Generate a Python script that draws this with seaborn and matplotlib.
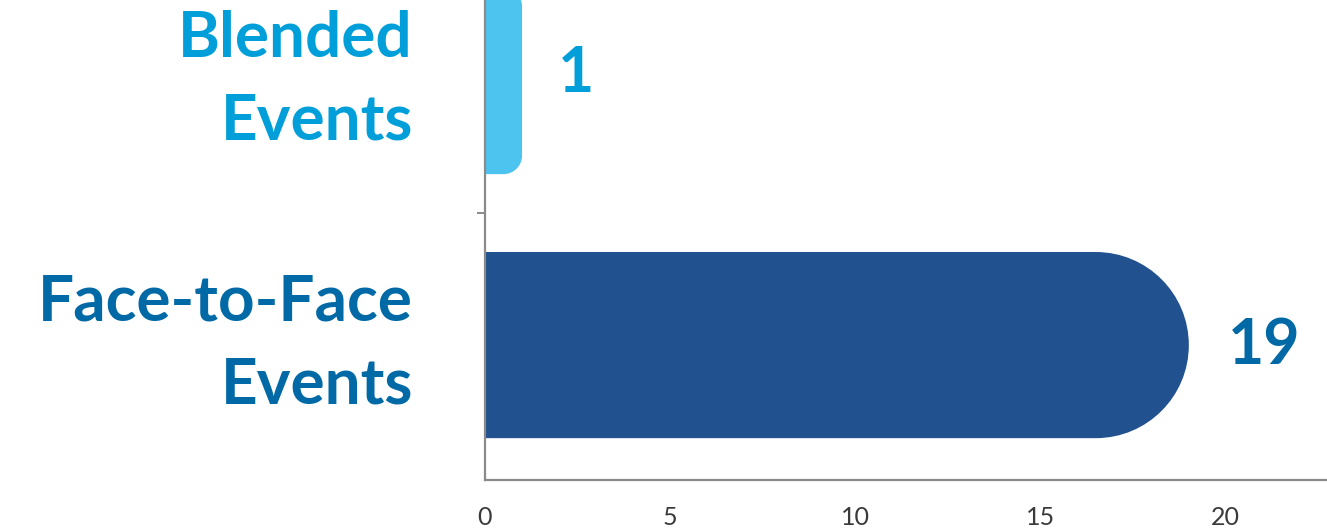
import numpy as np
import pandas as pd
import seaborn as sns
import matplotlib
matplotlib.use("Agg")
import matplotlib.pyplot as plt
from matplotlib.path import Path
from matplotlib.patches import PathPatch

# ---- data ----
categories = ["Blended\nEvents", "Face-to-Face\nEvents"]
values = [1, 19]
bar_colors = ["#4DC3F0", "#21518F"]
label_colors = ["#009FDA", "#0069A6"]
xticks = [0, 5, 10, 15, 20]

sns.set_theme(style="white")
plt.rcParams["font.family"] = ["Lato", "DejaVu Sans"]

W, H, DPI = 1327, 531, 100
fig = plt.figure(figsize=(W / DPI, H / DPI), dpi=DPI)
ax = fig.add_axes([485 / W, 51 / H, 1 - 485 / W, 480 / H])

df = pd.DataFrame({"cat": categories, "val": values})
sns.barplot(data=df, x="val", y="cat", hue="cat", palette=bar_colors,
            orient="h", width=0.705, legend=False, ax=ax, saturation=1)

ax.set_xlim(0, 22.73)
ax.set_ylim(1.511, -0.307)

# replace rectangles with right-rounded shapes
fig.canvas.draw()
px_x = ax.transData.transform((1, 0))[0] - ax.transData.transform((0, 0))[0]
px_y = abs(ax.transData.transform((0, 1))[1] - ax.transData.transform((0, 0))[1])
for p in list(ax.patches):
    x0, y0 = p.get_x(), p.get_y()
    w, h = p.get_width(), p.get_height()
    fc = p.get_facecolor()
    wpx, hpx = w * px_x, h * px_y
    r = 0.5 * min(wpx, hpx)
    rx, ry = r / px_x, r / px_y
    k = 0.5523
    x1 = x0 + w
    ya, yb = y0, y0 + h
    verts = [(x0, ya), (x1 - rx, ya),
             (x1 - rx + k * rx, ya), (x1, ya + ry - k * ry), (x1, ya + ry),
             (x1, yb - ry),
             (x1, yb - ry + k * ry), (x1 - rx + k * rx, yb), (x1 - rx, yb),
             (x0, yb), (x0, ya)]
    codes = [Path.MOVETO, Path.LINETO,
             Path.CURVE4, Path.CURVE4, Path.CURVE4,
             Path.LINETO,
             Path.CURVE4, Path.CURVE4, Path.CURVE4,
             Path.LINETO, Path.CLOSEPOLY]
    p.remove()
    ax.add_patch(PathPatch(Path(verts, codes), facecolor=fc, edgecolor="none", zorder=2))

# value labels
for i, v in enumerate(values):
    ax.annotate(str(v), xy=(v, i), xytext=(26 if i == 0 else 28, 5 if i == 0 else -1),
                textcoords="offset points",
                ha="left", va="center", fontsize=45, fontweight="bold",
                color=label_colors[i])

# category labels (drawn as text next to the axis)
ax.set_yticks([0, 1])
ax.set_yticklabels(["", ""])
for i, (cat, c) in enumerate(zip(categories, label_colors)):
    ax.annotate(cat, xy=(0, i), xytext=(-52, 1), textcoords="offset points",
                ha="right", va="center", multialignment="right",
                fontsize=46, fontweight="bold", linespacing=1.55, color=c,
                annotation_clip=False)

# axes styling
for s in ["top", "right"]:
    ax.spines[s].set_visible(False)
for s in ["left", "bottom"]:
    ax.spines[s].set_color("#8a8a8a")
    ax.spines[s].set_linewidth(1.6)

ax.set_xticks(xticks)
ax.set_xticklabels([str(t) for t in xticks], fontsize=18, color="#3a3a3a", fontweight="normal")
ax.tick_params(axis="x", length=7, width=1.4, color="#8a8a8a", direction="out", pad=12)

ax.tick_params(axis="y", length=0)
ax.set_yticks([0.5], minor=True)
ax.tick_params(axis="y", which="minor", length=6, width=1.4, color="#8a8a8a", direction="out", left=True)

ax.set_xlabel("")
ax.set_ylabel("")

fig.savefig("out.png", dpi=DPI)
